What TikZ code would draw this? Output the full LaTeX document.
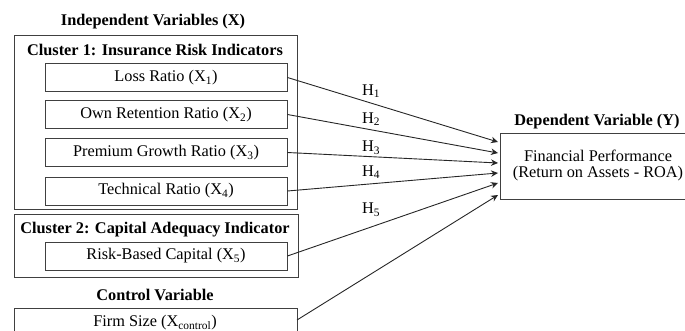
\documentclass[tikz,border=0pt]{standalone}
\usepackage{fontspec}
\setmainfont{Liberation Serif}
\usetikzlibrary{arrows.meta}
\begin{document}
\begin{tikzpicture}[x=1pt,y=-1pt,
  frame/.style={draw=black!75,line width=0.9pt},
  varbox/.style={frame,minimum width=242pt,minimum height=28pt,inner sep=0pt,font=\fontsize{16.3}{19}\selectfont},
  ttl/.style={font=\fontsize{16.3}{19}\selectfont\bfseries,inner sep=0pt},
  hlab/.style={font=\fontsize{16.3}{19}\selectfont,inner sep=0pt},
  arr/.style={draw=black!85,line width=0.9pt,-{Stealth[length=7pt,width=6.5pt]}}]
\useasboundingbox (0,0) rectangle (685,331);
\clip (0,0) rectangle (685,331);
% titles
\node[ttl] (tIV) at (153,22) {Independent Variables (X)};
\node[frame,minimum width=283pt,minimum height=174pt,inner sep=0pt,anchor=north west] (c1) at (14,35) {};
\node[ttl] (tc1) at (155,50) {Cluster 1: Insurance Risk Indicators};
\node[varbox] (x1) at (166,77.5) {Loss Ratio (X\textsubscript{1})};
\node[varbox] (x2) at (166,114.5) {Own Retention Ratio (X\textsubscript{2})};
\node[varbox] (x3) at (166,152.5) {Premium Growth Ratio (X\textsubscript{3})};
\node[varbox] (x4) at (166,191) {Technical Ratio (X\textsubscript{4})};
\node[frame,minimum width=284pt,minimum height=63pt,inner sep=0pt,anchor=north west] (c2) at (14,214) {};
\node[ttl] (tc2) at (155,230) {Cluster 2: Capital Adequacy Indicator};
\node[varbox] (x5) at (166,256) {Risk-Based Capital (X\textsubscript{5})};
\node[ttl] (tcv) at (155,295) {Control Variable};
\node[frame,minimum width=283pt,minimum height=28pt,inner sep=0pt,anchor=north west] (xc) at (14,308) {};
\node[font=\fontsize{16.3}{19}\selectfont,inner sep=0pt] (xct) at (155,323) {Firm Size (X\textsubscript{control})};
% dependent
\node[ttl] (tdv) at (597,122) {Dependent Variable (Y)};
\node[frame,minimum width=198pt,minimum height=66pt,inner sep=0pt,anchor=north west] (y) at (500,133) {};
\node[font=\fontsize{16.3}{16}\selectfont,align=center,inner sep=0pt] (yt) at (598,165.5) {Financial Performance\\(Return on Assets - ROA)};
% end points
\coordinate (e1) at (498,142);
\coordinate (e2) at (498,153);
\coordinate (e3) at (498,163);
\coordinate (e4) at (498,173);
\coordinate (e5) at (498,183);
\coordinate (e6) at (498,195);
\coordinate (s6) at (297,320);
\draw[arr] (x1.east) -- (e1);
\draw[arr] (x2.east) -- (e2);
\draw[arr] (x3.east) -- (e3);
\draw[arr] (x4.east) -- (e4);
\draw[arr] (x5.east) -- (e5);
\draw[arr] (s6) -- (e6);
\node[hlab] (h1) at (371,91) {H\textsubscript{1}};
\node[hlab] (h2) at (371,119) {H\textsubscript{2}};
\node[hlab] (h3) at (371,148) {H\textsubscript{3}};
\node[hlab] (h4) at (371,172) {H\textsubscript{4}};
\node[hlab] (h5) at (371,210) {H\textsubscript{5}};
\end{tikzpicture}
\end{document}
